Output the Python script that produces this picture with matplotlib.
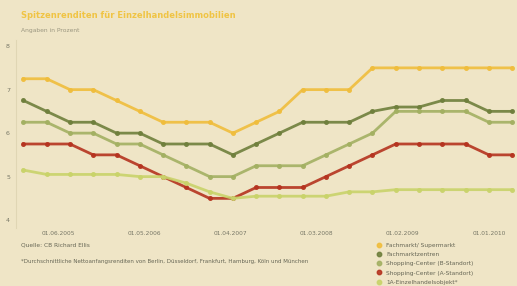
import numpy as np
from matplotlib import pyplot as plt

# quarterly values, in percent
fachmarkt = [7.25, 7.25, 7.0, 7.0, 6.75, 6.5, 6.25, 6.25, 6.25, 6.0, 6.25,
             6.5, 7.0, 7.0, 7.0, 7.5, 7.5, 7.5, 7.5, 7.5, 7.5, 7.5]
fmz = [6.75, 6.5, 6.25, 6.25, 6.0, 6.0, 5.75, 5.75, 5.75, 5.5, 5.75,
       6.0, 6.25, 6.25, 6.25, 6.5, 6.6, 6.6, 6.75, 6.75, 6.5, 6.5]
sc_b = [6.25, 6.25, 6.0, 6.0, 5.75, 5.75, 5.5, 5.25, 5.0, 5.0, 5.25,
        5.25, 5.25, 5.5, 5.75, 6.0, 6.5, 6.5, 6.5, 6.5, 6.25, 6.25]
sc_a = [5.75, 5.75, 5.75, 5.5, 5.5, 5.25, 5.0, 4.75, 4.5, 4.5, 4.75,
        4.75, 4.75, 5.0, 5.25, 5.5, 5.75, 5.75, 5.75, 5.75, 5.5, 5.5]
einzel_1a = [5.15, 5.05, 5.05, 5.05, 5.05, 5.0, 5.0, 4.85, 4.65, 4.5, 4.55,
             4.55, 4.55, 4.55, 4.65, 4.65, 4.7, 4.7, 4.7, 4.7, 4.7, 4.7]

labels = ['Fachmarkt/ Supermarkt', 'Fachmarktzentren', 'Shopping-Center (B-Standort)',
          'Shopping-Center (A-Standort)', '1A-Einzelhandelsobjekt*']
colors = ['#f0bd3c', '#6f7f3c', '#a3b062', '#b5331f', '#c9d36a']
tick_labels = ['01.06.2005', '01.05.2006', '01.04.2007', '01.03.2008', '01.02.2009', '01.01.2010']
y_ticks = [4, 5, 6, 7, 8]

bg = '#efe5c6'
fig = plt.figure(figsize=(5.17, 2.86), dpi=100, facecolor=bg)
ax = fig.add_axes([0.03, 0.203, 0.97, 0.657], facecolor=bg)

x = np.arange(len(fachmarkt))
for vals, c, lab in zip([fachmarkt, fmz, sc_b, sc_a, einzel_1a], colors, labels):
    ax.plot(x, vals, color=c, lw=2.0, marker='o', ms=2.6, label=lab, alpha=0.9)

ax.set_xlim(-0.34, 21.21)
ax.set_ylim(3.82, 8.14)
ax.set_yticks(y_ticks)
ax.set_yticklabels([str(v) for v in y_ticks], fontsize=4.5, color='#777766')
ax.set_xticks(np.linspace(1.5, 20, 6))
ax.set_xticklabels(tick_labels, fontsize=4.2, color='#777766')
ax.tick_params(length=0, pad=2)
ax.tick_params(axis='y', pad=4)
for s in ['top', 'right', 'bottom']:
    ax.spines[s].set_visible(False)
ax.spines['left'].set_color('#e0d6b4')
ax.spines['left'].set_linewidth(0.8)

fig.text(0.04, 0.945, 'Spitzenrenditen für Einzelhandelsimmobilien', fontsize=6,
         fontweight='bold', color='#f0c444', va='center')
fig.text(0.04, 0.895, 'Angaben in Prozent', fontsize=4.3, color='#9a9680', va='center')
fig.text(0.04, 0.143, 'Quelle: CB Richard Ellis', fontsize=4.2, color='#666655', va='center')
fig.text(0.04, 0.085, '*Durchschnittliche Nettoanfangsrenditen von Berlin, Düsseldorf, '
         'Frankfurt, Hamburg, Köln und München', fontsize=4.0, color='#666655', va='center')

fig.legend(loc='upper left', bbox_to_anchor=(0.728, 0.162), frameon=False, fontsize=4.2,
           handlelength=0, handletextpad=1.2, labelspacing=0.72, borderpad=0,
           labelcolor='#666655')
for h in fig.legends[0].legend_handles:
    h.set_linestyle('none')
    h.set_markersize(3.2)

fig.savefig('out.png', dpi=100, facecolor=bg)
